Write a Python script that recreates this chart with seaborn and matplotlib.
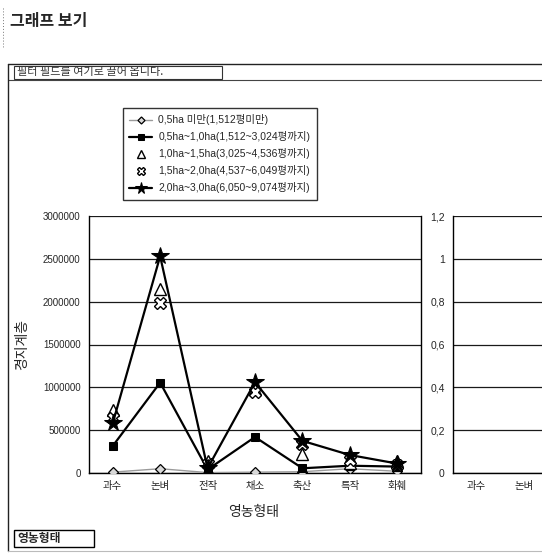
import numpy as np
import pandas as pd
import matplotlib
matplotlib.use("Agg")
import matplotlib.pyplot as plt
from matplotlib.ticker import FuncFormatter, FixedLocator
from matplotlib.lines import Line2D
from matplotlib.patches import Rectangle
import seaborn as sns

# ---- data -------------------------------------------------------------
categories = ["과수", "논벼", "전작", "채소", "축산", "특작", "화훼"]
series_labels = [
    "0,5ha 미만(1,512평미만)",
    "0,5ha~1,0ha(1,512~3,024평까지)",
    "1,0ha~1,5ha(3,025~4,536평까지)",
    "1,5ha~2,0ha(4,537~6,049평까지)",
    "2,0ha~3,0ha(6,050~9,074평까지)",
]
under_05 = [10000, 50000, 5000, 10000, 15000, 50000, 20000]
from_05_to_10 = [315000, 1055000, 40000, 420000, 55000, 85000, 75000]
from_10_to_15 = [730000, 2150000, 140000, 980000, 220000, 120000, 140000]
from_15_to_20 = [640000, 1990000, 100000, 950000, 340000, 150000, 90000]
from_20_to_30 = [580000, 2530000, 55000, 1060000, 375000, 210000, 110000]
right_ticks = [0, 0.2, 0.4, 0.6, 0.8, 1.0, 1.2]
right_categories = ["과수", "논벼"]

# ---- style ------------------------------------------------------------
sns.set_style("white")
plt.rcParams["font.family"] = ["Liberation Sans", "Noto Sans CJK KR"]
plt.rcParams["axes.unicode_minus"] = False

fig = plt.figure(figsize=(5.42, 5.54), dpi=100)
W, H = 542.0, 554.0


def fx(px):
    return px / W


def fy(py):
    return 1 - py / H


# ---- main plot area ---------------------------------------------------
ax = fig.add_axes([fx(89), fy(473), fx(421) - fx(89), fy(216) - fy(473)])
x = np.arange(len(categories))

frame = pd.DataFrame({"pos": x, "cat": categories})
styles = [
    (under_05, dict(marker="D", ms=5.5, mfc="#d8d8d8", mec="black", mew=0.9,
                    color="#9a9a9a", lw=1.0)),
    (from_05_to_10, dict(marker="s", ms=6, mfc="black", mec="black",
                         color="black", lw=1.6)),
    (from_10_to_15, dict(marker="^", ms=8, mfc="white", mec="black", mew=1.0,
                         color="black", linestyle="none")),
    (from_15_to_20, dict(marker="X", ms=8, mfc="white", mec="black", mew=1.0,
                         color="black", linestyle="none")),
    (from_20_to_30, dict(marker="*", ms=13, mfc="black", mec="black",
                         color="black", lw=1.6)),
]
handles = []
for (vals, kw), lab in zip(styles, series_labels):
    frame["v"] = vals
    sns.lineplot(data=frame, x="pos", y="v", ax=ax, label=lab, legend=False,
                 zorder=3, **kw)
    handles.append(ax.lines[-1])

ax.set_xlim(-0.5, len(categories) - 0.5)
ax.set_ylim(0, 3000000)
ax.set_yticks(np.arange(0, 3000001, 500000))
ax.yaxis.set_major_formatter(FuncFormatter(lambda v, p: f"{int(v)}"))
ax.set_xticks(x)
ax.set_xticklabels(categories)
ax.xaxis.set_minor_locator(FixedLocator(np.arange(-0.5, len(categories), 1.0)))
ax.tick_params(axis="x", which="major", length=0, pad=6, labelsize=7.5)
ax.tick_params(axis="x", which="minor", length=4, width=0.9, direction="out",
               color="black")
ax.tick_params(axis="y", length=4, width=0.9, direction="out", color="black",
               labelsize=7, pad=2)
ax.yaxis.grid(True, color="#1a1a1a", lw=0.9)
ax.set_axisbelow(True)
for s in ["left", "bottom", "right"]:
    ax.spines[s].set_visible(True)
    ax.spines[s].set_color("black")
    ax.spines[s].set_linewidth(1.0)
ax.spines["top"].set_visible(False)
ax.set_xlabel("")
ax.set_ylabel("")

# ---- second (empty) plot area, running past the right edge ------------
ax2 = fig.add_axes([fx(453), fy(473), fx(421) - fx(89), fy(216) - fy(473)])
ax2.set_xlim(-0.5, len(categories) - 0.5)
ax2.set_ylim(0, 1.2)
ax2.set_yticks(right_ticks)
ax2.yaxis.set_major_formatter(
    FuncFormatter(lambda v, p: f"{v:g}".replace(".", ",")))
ax2.set_xticks(np.arange(len(right_categories)))
ax2.set_xticklabels(right_categories)
ax2.xaxis.set_minor_locator(FixedLocator(np.arange(-0.5, len(categories), 1.0)))
ax2.tick_params(axis="x", which="major", length=0, pad=6, labelsize=7.5)
ax2.tick_params(axis="x", which="minor", length=4, width=0.9, direction="out",
                color="black")
ax2.tick_params(axis="y", length=4, width=0.9, direction="out", color="black",
                labelsize=7.5, pad=2)
ax2.yaxis.grid(True, color="#1a1a1a", lw=0.9)
ax2.set_axisbelow(True)
for s in ["left", "bottom"]:
    ax2.spines[s].set_visible(True)
    ax2.spines[s].set_color("black")
    ax2.spines[s].set_linewidth(1.0)
ax2.spines["top"].set_visible(False)
ax2.spines["right"].set_visible(False)

# ---- legend -----------------------------------------------------------
leg = fig.legend(handles=handles, labels=series_labels, loc="upper left",
                 bbox_to_anchor=(fx(123), fy(108)), frameon=True,
                 fancybox=False, edgecolor="black", fontsize=7.5,
                 handlelength=2.2, handletextpad=0.6, labelspacing=0.58,
                 borderpad=0.6, borderaxespad=0, markerscale=0.65)
leg.get_frame().set_linewidth(1.0)

# ---- texts ------------------------------------------------------------
fig.text(fx(10), fy(21), "그래프 보기", fontsize=11.5, fontweight="bold",
         va="center", ha="left", family=["Noto Sans CJK KR"])
fig.text(fx(22), fy(345), "경지계층", rotation=90, fontsize=10,
         va="center", ha="center", family=["Noto Sans CJK KR"])
fig.text(fx(254), fy(512), "영농형태", fontsize=10, va="center", ha="center",
         family=["Noto Sans CJK KR"])

# pivot field area
fig.text(fx(17), fy(72), "필터 필드를 여기로 끌어 옵니다.", fontsize=8,
         va="center", ha="left", color="#333333",
         family=["Noto Sans CJK KR"])
fig.add_artist(Rectangle((fx(14), fy(79)), fx(222) - fx(14), fy(66) - fy(79),
                         transform=fig.transFigure, fill=False,
                         edgecolor="#333333", lw=0.8))
fig.add_artist(Rectangle((fx(14), fy(547)), fx(94) - fx(14), fy(530) - fy(547),
                         transform=fig.transFigure, fill=False,
                         edgecolor="black", lw=1.0))
fig.text(fx(17), fy(538.5), "영농형태", fontsize=8.5, fontweight="bold",
         va="center", ha="left", family=["Noto Sans CJK KR"])

# chart frame lines
for (x0, y0, x1, y1, c, lw) in [
    (8, 64, 542, 64, "#222222", 1.0),
    (8, 80, 542, 80, "#444444", 0.8),
    (8, 64, 8, 551, "#222222", 1.0),
    (8, 551, 542, 551, "#bbbbbb", 0.8),
]:
    fig.add_artist(Line2D([fx(x0), fx(x1)], [fy(y0), fy(y1)],
                          transform=fig.transFigure, color=c, lw=lw))
fig.add_artist(Line2D([fx(3), fx(3)], [fy(8), fy(48)],
                      transform=fig.transFigure, color="#777777", lw=0.7,
                      linestyle=(0, (1, 2))))

fig.savefig("out.png", dpi=100)
